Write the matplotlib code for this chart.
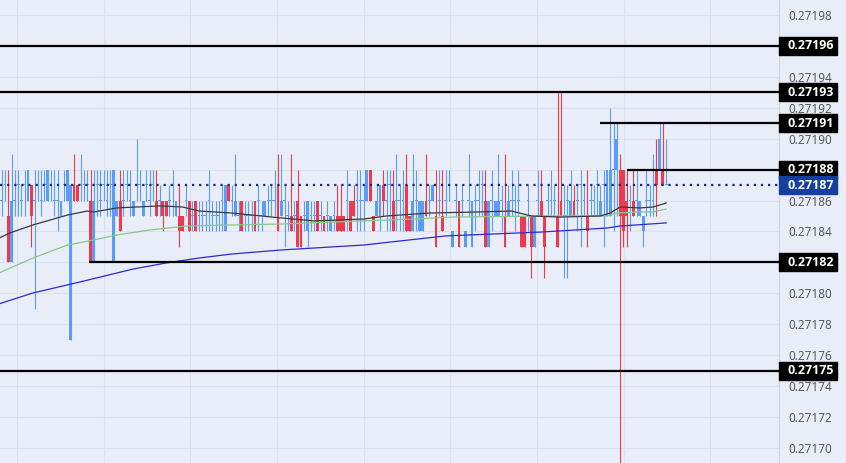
import numpy as np
import matplotlib.pyplot as plt
from matplotlib.patches import Rectangle

# prices are in ticks of 0.00001 above 0.27180
base = 0.27180
tick = 0.00001

opens = [6, 7, 5, 2, 6, 7, 6, 7, 6, 7, 6, 7, 6, 7, 6, 7, 6, 6, 5, 7, 6, -3, 7, 7, 7, 7, 7, 6, 2,
         7, 6, 7, 6, 7, 2, 5, 6, 6, 7, 6, 5, 7, 7, 5, 7, 6, 7, 6, 6, 6, 6, 6, 7, 5, 5, 5, 6, 6,
         5, 6, 5, 5, 5, 6, 5, 5, 5, 6, 4, 7, 6, 5, 5, 6, 5, 5, 5, 6, 6, 5, 5, 6, 6, 6, 7, 5, 6,
         5, 5, 5, 6, 5, 5, 4, 5, 5, 6, 5, 5, 5, 4, 5, 5, 5, 5, 6, 6, 6, 6, 6, 6, 6, 8, 5, 5, 5,
         7, 6, 7, 6, 6, 6, 6, 7, 5, 4, 6, 4, 4, 6, 6, 6, 5, 6, 5, 6, 7, 3, 6, 6, 6, 3, 6, 3, 6,
         6, 7, 6, 3, 6, 5, 5, 6, 5, 5, 6, 6, 6, 5, 5, 6, 5, 3, 6, 6, 5, 6, 6, 6, 5, 6, 5, 6,
         5, 6, 6, 7, 6, 5, 6, 6, 7, 5, 7, 5, 5, 8, 8, 8, 8, 6, 6, 6, 6, 5, 4, 6, 6, 6, 8, 8, 8, 7]
highs = [8, 8, 8, 9, 8, 8, 7, 8, 8, 7, 8, 8, 8, 8, 8, 8, 8, 8, 6, 8, 8, 7, 9, 7, 9, 8, 8, 8, 8,
         8, 8, 8, 8, 8, 8, 6, 8, 8, 8, 8, 6, 10, 8, 6, 8, 8, 8, 8, 7, 6, 6, 7, 8, 6, 7, 5, 7, 6,
         6, 6, 6, 6, 6, 8, 6, 6, 6, 7, 7, 7, 7, 9, 6, 6, 6, 6, 6, 6, 7, 6, 6, 7, 7, 8, 9, 9, 7,
         6, 9, 6, 8, 5, 6, 6, 6, 6, 6, 6, 5, 6, 5, 6, 7, 7, 5, 8, 6, 7, 8, 8, 7, 8, 8, 5, 7, 7,
         8, 8, 8, 8, 9, 7, 8, 9, 5, 9, 8, 6, 6, 9, 7, 7, 8, 8, 8, 8, 8, 4, 7, 6, 7, 4, 9, 6, 7,
         8, 8, 8, 6, 8, 6, 9, 7, 9, 7, 8, 7, 8, 5, 5, 7, 5, 5, 8, 8, 5, 7, 8, 7, 13, 13, 7, 7,
         8, 7, 7, 8, 7, 8, 7, 7, 8, 7, 8, 8, 12, 11, 11, 9, 8, 8, 7, 8, 8, 6, 5, 8, 7, 9, 10, 11, 11, 10]
lows = [5, 6, 2, 2, 5, 5, 5, 5, 6, 3, -1, 6, 5, 6, 6, 6, 5, 4, 5, 6, 6, -3, 6, 6, 6, 6, 6, 2, 2,
        5, 5, 6, 5, 5, 2, 5, 4, 5, 6, 5, 5, 6, 6, 5, 6, 5, 6, 5, 5, 4, 5, 5, 5, 5, 3, 4, 5, 4,
        4, 4, 4, 4, 4, 4, 4, 4, 4, 4, 4, 6, 5, 5, 4, 4, 4, 4, 4, 4, 4, 4, 5, 5, 5, 5, 4, 5, 3,
        4, 4, 4, 3, 3, 4, 3, 4, 4, 4, 4, 4, 4, 4, 4, 4, 4, 4, 4, 4, 5, 4, 4, 4, 6, 6, 4, 5, 4,
        5, 4, 4, 4, 4, 4, 4, 4, 4, 4, 4, 4, 4, 5, 5, 6, 3, 5, 4, 5, 6, 3, 5, 3, 5, 3, 5, 3, 4,
        5, 5, 3, 3, 4, 5, 5, 4, 3, 5, 5, 4, 5, 3, 3, 4, 1, 3, 5, 5, 1, 5, 5, 5, 3, 5, 1, 1,
        5, 5, 4, 3, 5, 3, 5, 5, 5, 5, 3, 5, 5, 4, 5, -14, 3, 3, 4, 5, 5, 5, 3, 5, 5, 5, 5, 8, 7, 7]
closes = [6, 7, 2, 6, 6, 7, 6, 7, 8, 5, 6, 7, 6, 7, 8, 7, 6, 6, 6, 7, 8, 7, 6, 6, 7, 7, 7, 2, 6,
          7, 6, 7, 6, 7, 8, 6, 4, 6, 7, 6, 6, 7, 7, 6, 7, 6, 7, 5, 6, 5, 5, 6, 7, 6, 4, 4, 6, 4,
          5, 4, 5, 5, 5, 6, 5, 5, 5, 6, 7, 6, 6, 6, 5, 4, 5, 5, 5, 4, 6, 5, 6, 6, 6, 6, 4, 6, 6,
          5, 4, 5, 3, 3, 5, 6, 5, 5, 4, 5, 4, 5, 5, 5, 4, 4, 4, 6, 4, 5, 6, 6, 6, 8, 6, 4, 6, 7,
          6, 6, 7, 4, 6, 6, 6, 4, 4, 6, 6, 6, 6, 5, 6, 7, 3, 6, 4, 6, 7, 4, 6, 3, 6, 4, 6, 6, 6,
          6, 7, 3, 6, 6, 6, 6, 6, 3, 6, 6, 6, 6, 3, 3, 6, 3, 5, 6, 5, 3, 6, 6, 6, 3, 5, 5, 6,
          6, 5, 6, 7, 6, 4, 6, 6, 7, 6, 7, 8, 8, 8, 10, 5, 4, 5, 6, 5, 6, 6, 5, 6, 6, 6, 7, 10, 7, 7]

# moving averages (bar index, price)
ma_fast_x = [-1, 2.5, 9.5, 20, 26, 28, 35, 48, 55, 60, 70, 85, 95, 110, 117, 130, 145, 155, 161,
             170, 182, 185, 188, 194, 198, 201, 202]
ma_fast = [0.2718355, 0.2718390, 0.2718442, 0.2718506, 0.2718532, 0.2718526, 0.2718552, 0.2718565,
           0.2718558, 0.2718532, 0.2718519, 0.2718487, 0.2718468, 0.2718480, 0.2718500, 0.2718519,
           0.2718526, 0.2718532, 0.2718500, 0.2718493, 0.2718500, 0.2718519, 0.2718558, 0.2718552,
           0.2718558, 0.2718577, 0.2718584]
ma_mid_x = [-1, 9.5, 20, 28, 35, 45, 56, 70, 85, 125, 137, 170, 184, 187, 194, 198, 202]
ma_mid = [0.2718130, 0.2718228, 0.2718312, 0.2718345, 0.2718377, 0.2718409, 0.2718435, 0.2718442,
          0.2718448, 0.2718480, 0.2718493, 0.2718500, 0.2718500, 0.2718519, 0.2718526, 0.2718526,
          0.2718545]
ma_slow_x = [-1, 9.5, 20, 30, 40, 50, 60, 70, 85, 110, 135, 164, 184, 188, 202]
ma_slow = [0.2717930, 0.2718002, 0.2718054, 0.2718105, 0.2718157, 0.2718196, 0.2718228, 0.2718254,
           0.2718280, 0.2718312, 0.2718371, 0.2718396, 0.2718422, 0.2718435, 0.2718455]

# horizontal levels and the bar they start from
levels = [0.27196, 0.27193, 0.27191, 0.27188, 0.27182, 0.27175]
level_start = [-1, -1, 182, 190, 26.5, -1]
last_price = 0.27187

bg = '#e9edf7'
up_color = '#5b9cf6'
down_color = '#ee3a4c'

o = base + np.array(opens) * tick
h = base + np.array(highs) * tick
l = base + np.array(lows) * tick
c = base + np.array(closes) * tick
x = np.arange(len(o))
colors = [down_color if cc < oo else up_color for oo, cc in zip(o, c)]

fig = plt.figure(figsize=(8.46, 4.63), dpi=100, facecolor=bg)
ax = fig.add_axes([0, 0, 779 / 846, 1], facecolor=bg)

x_right = 236.3
ax.set_xlim(-0.52, x_right)
ax.set_ylim(0.2716902, 0.2719897)

# grid
ax.set_xticks(np.arange(4.65, x_right, 26.35))
yticks = np.arange(0.27170, 0.271985, 0.00002)
ax.set_yticks(yticks)
ax.grid(True, color='#dce1ec', lw=0.8, zorder=0)
ax.tick_params(axis='x', length=0, labelbottom=False)
ax.yaxis.tick_right()
ax.tick_params(axis='y', length=0, pad=7, labelsize=8.5, labelcolor='#505050')
# tick labels sitting under a level box are hidden, as on the chart
covered = [round(v, 5) for v in levels + [last_price]]
ax.set_yticklabels(['' if round(v, 5) in covered else f'{v:.5f}' for v in yticks],
                   family='Open Sans')
for side in ['top', 'bottom', 'left']:
    ax.spines[side].set_visible(False)
ax.spines['right'].set_color('#cfd4df')
ax.spines['right'].set_linewidth(0.8)

# candles
ax.vlines(x, l, h, colors=colors, lw=0.8, zorder=2)
body_h = np.maximum(np.abs(c - o), 0.06 * tick)
ax.bar(x, body_h, bottom=np.minimum(o, c), width=0.85, color=colors, zorder=2)

# moving averages
ax.plot(ma_slow_x, ma_slow, color='#2a2ad6', lw=0.9, zorder=3)
ax.plot(ma_mid_x, ma_mid, color='#86c98a', lw=0.9, zorder=3)
ax.plot(ma_fast_x, ma_fast, color='#3a3a3a', lw=0.9, zorder=3)

# support / resistance lines
for lev, start in zip(levels, level_start):
    ax.hlines(lev, start, x_right, colors='black', lw=1.6, zorder=4)
ax.axhline(last_price, color='#1a2a7a', lw=1.6, linestyle=(0, (1, 2.2)), zorder=4)

# price labels on the axis
box_w = 58 / 779
box_h = 18 / 15.46 * tick
for lev, col in [(v, 'black') for v in levels] + [(last_price, '#153f9e')]:
    ax.add_patch(Rectangle((1.0, lev - box_h / 2), box_w, box_h, color=col,
                           transform=ax.get_yaxis_transform(), clip_on=False, zorder=10))
    ax.text(1.0 + 9 / 779, lev, f'{lev:.5f}', transform=ax.get_yaxis_transform(),
            color='white', fontsize=9, fontweight='bold', family='Open Sans',
            va='center', ha='left', clip_on=False, zorder=11)

fig.savefig('out.png', dpi=100, facecolor=bg)
